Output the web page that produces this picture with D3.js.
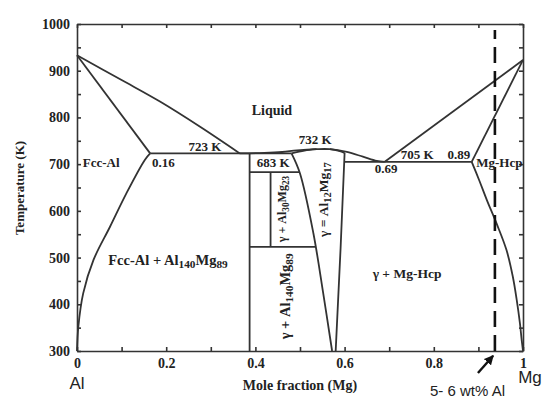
<!DOCTYPE html>
<meta charset="utf-8">
<script src="https://d3js.org/d3.v7.min.js"></script>
<style>
  body { margin: 0; background: white; }
  svg text { font-family: "Liberation Serif", serif; font-weight: bold; fill: #222; }
  .axis path, .axis line { stroke: #333; stroke-width: 1.6; }
  .axis text { font-size: 14px; }
  .phase { fill: none; stroke: #333; stroke-width: 1.8; }
  .sans { font-family: "Liberation Sans", sans-serif !important; font-weight: normal !important; }
</style>
<body>
<svg id="chart" width="542" height="396"></svg>
<script>
// ticks
var xTicks = [0, 0.1, 0.2, 0.3, 0.4, 0.5, 0.6, 0.7, 0.8, 0.9, 1]
var xLabels = {0: "0", 0.2: "0.2", 0.4: "0.4", 0.6: "0.6", 0.8: "0.8", 1: "1"}
var yTicks = d3.range(300, 1001, 50)

// phase boundaries [mole fraction Mg, T (K)]
var liquidusAl = [[0, 933], [0.1, 880], [0.186, 834], [0.276, 780], [0.365, 723]]
var solidusAl = [[0, 933], [0.164, 723]]
var solvusAl = [[0.164, 723], [0.152, 709], [0.111, 638], [0.074, 566], [0.037, 495], [0.014, 424], [0.003, 352], [0, 300]]
var eutectic723 = [[0.164, 723], [0.481, 723]]
var liquidusGamma = [[0.365, 723], [0.42, 724], [0.46, 726], [0.493, 729.5], [0.537, 732], [0.567, 732], [0.605, 726], [0.641, 716], [0.672, 707], [0.69, 705]]
var solidusGammaL = [[0.481, 723], [0.51, 729], [0.537, 732]]
var solidusGammaR = [[0.567, 732], [0.585, 729], [0.60, 724]]
var gammaLeft = [[0.481, 723], [0.50, 680], [0.53, 552], [0.552, 424], [0.572, 300]]
var gammaRight = [[0.60, 724], [0.591, 520], [0.580, 300]]
var al140Mg89 = [[0.387, 723], [0.387, 300]]
var line683 = [[0.387, 683], [0.499, 683]]
var al30Mg23 = [[0.434, 683], [0.434, 523]]
var line523 = [[0.387, 523], [0.535, 523]]
var eutectic705 = [[0.599, 705], [0.885, 705]]
var liquidusMg = [[0.69, 705], [1, 923]]
var solidusMg = [[0.885, 705], [1, 923]]
var solvusMg = [[0.885, 705], [0.902, 665], [0.919, 623], [0.942, 570], [0.963, 516], [0.977, 460], [0.986, 409], [0.993, 360], [0.997, 324], [1, 300]]
var alloyLine = [[0.937, 300], [0.937, 987]]
var arrowLine = [[0.899, 253], [0.933, 290]]

var svg = d3.select("#chart")
var x = d3.scaleLinear().domain([0, 1]).range([77, 523])
var y = d3.scaleLinear().domain([300, 1000]).range([351, 24])

// frame with inside ticks
svg.append("g").attr("class", "axis").attr("transform", "translate(0," + y(300) + ")")
  .call(d3.axisBottom(x).tickValues(xTicks).tickSize(-4).tickSizeOuter(0).tickPadding(7)
    .tickFormat(function(d){ return xLabels[d] || "" }))
svg.append("g").attr("class", "axis").attr("transform", "translate(0," + y(1000) + ")")
  .call(d3.axisTop(x).tickValues(xTicks).tickSize(-4).tickSizeOuter(0).tickFormat(""))
svg.append("g").attr("class", "axis").attr("transform", "translate(" + x(0) + ",0)")
  .call(d3.axisLeft(y).tickValues(yTicks).tickSize(-4).tickSizeOuter(0).tickPadding(7)
    .tickFormat(function(d){ return d % 100 === 0 ? d : "" }))
svg.append("g").attr("class", "axis").attr("transform", "translate(" + x(1) + ",0)")
  .call(d3.axisRight(y).tickValues(yTicks).tickSize(-4).tickSizeOuter(0).tickFormat(""))
svg.selectAll(".axis .domain").attr("stroke-width", 1.8)

var line = d3.line().x(function(d){ return x(d[0]) }).y(function(d){ return y(d[1]) })
var smooth = d3.line().x(function(d){ return x(d[0]) }).y(function(d){ return y(d[1]) }).curve(d3.curveCatmullRom)
var straight = [solidusAl, eutectic723, al140Mg89, line683, al30Mg23, line523, eutectic705,
  liquidusMg, solidusMg, gammaRight]
var curved = [liquidusAl, solvusAl, liquidusGamma, solidusGammaL, solidusGammaR, gammaLeft, solvusMg]
straight.forEach(function(pts){ svg.append("path").attr("class", "phase").attr("d", line(pts)) })
curved.forEach(function(pts){ svg.append("path").attr("class", "phase").attr("d", smooth(pts)) })

// dashed alloy composition line
svg.append("path").attr("d", line(alloyLine)).attr("fill", "none")
  .attr("stroke", "#111").attr("stroke-width", 2.6).attr("stroke-dasharray", "16,8")

// arrow
svg.append("defs").append("marker").attr("id", "head").attr("viewBox", "0 0 10 10")
  .attr("refX", 9).attr("refY", 5).attr("markerWidth", 4).attr("markerHeight", 4).attr("orient", "auto")
  .append("path").attr("d", "M0,0L10,5L0,10z").attr("fill", "#111")
svg.append("path").attr("d", line(arrowLine)).attr("stroke", "#111").attr("stroke-width", 2.4)
  .attr("marker-end", "url(#head)")

// axis titles
svg.append("text").attr("x", x(0.5)).attr("y", 390).attr("text-anchor", "middle")
  .attr("font-size", 14).text("Mole fraction (Mg)")
svg.append("text").attr("transform", "translate(24,188) rotate(-90)").attr("text-anchor", "middle")
  .attr("font-size", 13).text("Temperature (K)")

// labels
function label(px, t, str, anchor, size){
  return svg.append("text").attr("x", x(px)).attr("y", y(t)).attr("text-anchor", anchor || "middle")
    .attr("font-size", size || 13).text(str)
}
label(0.437, 805, "Liquid", "middle", 14)
label(0.287, 728, "723 K")
label(0.168, 694, "0.16", "start")
label(0.013, 694, "Fcc-Al", "start")
label(0.534, 744, "732 K")
label(0.44, 694, "683 K")
label(0.693, 680, "0.69")
label(0.763, 712, "705 K")
label(0.856, 712, "0.89")
label(0.947, 694, "Mg-Hcp")

function chem(g, parts){
  parts.forEach(function(p){
    var ts = g.append("tspan").text(p[0])
    if (p[1]) ts.attr("font-size", "0.78em").attr("dy", 3)
    else if (p[2]) ts.attr("dy", -3)
  })
}
chem(label(0.07, 484, "", "start", 14.5), [["Fcc-Al + Al"], ["140", 1], ["Mg", 0, 1], ["89", 1]])
chem(label(0.74, 456, "", "middle", 13.5), [["γ + Mg-Hcp"]])

function vlabel(px, t, parts, size){
  var g = svg.append("text").attr("transform", "translate(" + x(px) + "," + y(t) + ") rotate(-90)")
    .attr("text-anchor", "middle").attr("dy", "0.35em").attr("font-size", size)
  chem(g, parts)
}
vlabel(0.466, 417, [["γ + Al"], ["140", 1], ["Mg", 0, 1], ["89", 1]], 14.5)
vlabel(0.46, 604, [["γ + Al"], ["30", 1], ["Mg", 0, 1], ["23", 1]], 12)
vlabel(0.552, 624, [["γ = Al"], ["12", 1], ["Mg", 0, 1], ["17", 1]], 13.5)

// element labels
svg.append("text").attr("class", "sans").attr("x", x(0)).attr("y", 389).attr("text-anchor", "middle")
  .attr("font-size", 17).text("Al")
svg.append("text").attr("class", "sans").attr("x", 530).attr("y", 383).attr("text-anchor", "middle")
  .attr("font-size", 17).text("Mg")
svg.append("text").attr("class", "sans").attr("x", 430).attr("y", 396)
  .attr("font-size", 15).text("5- 6 wt% Al")
</script>
</body>
